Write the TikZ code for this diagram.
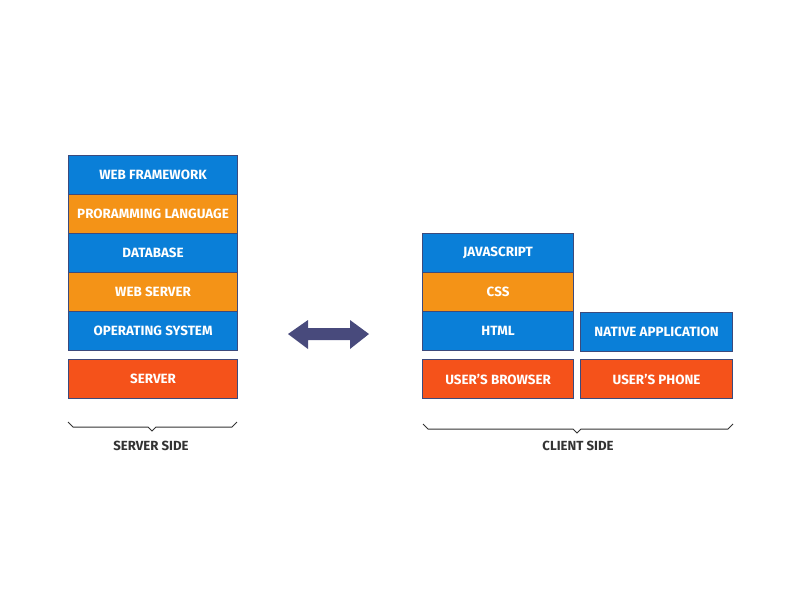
\documentclass[tikz,border=0pt]{standalone}
\usepackage{fontspec}
\setmainfont{Fira Sans}
\definecolor{cblue}{HTML}{0A7FD8}
\definecolor{corange}{HTML}{F49317}
\definecolor{cred}{HTML}{F5521A}
\definecolor{cedge}{HTML}{3C4A7C}
\definecolor{carrow}{HTML}{484A7C}
\definecolor{ctext}{HTML}{333333}
\tikzset{
  layer/.style={draw=cedge, line width=1.1pt, text=white, font=\bfseries\fontsize{13.4}{15}\selectfont, inner sep=0pt, anchor=north west},
  bluebox/.style={layer, fill=cblue},
  orangebox/.style={layer, fill=corange},
  redbox/.style={layer, fill=cred},
  sidelabel/.style={text=ctext, font=\bfseries\fontsize{13.2}{15}\selectfont},
  bracepath/.style={draw=ctext, line width=1pt, line join=miter}
}
\begin{document}
\begin{tikzpicture}[x=1pt,y=-1pt]
\useasboundingbox (0,0) rectangle (800,600);
% server side
\node[bluebox, minimum width=169pt, minimum height=39pt] (wf) at (68,155) {WEB FRAMEWORK};
\node[orangebox, minimum width=169pt, minimum height=39pt] (pl) at (68,194) {PRORAMMING LANGUAGE};
\node[bluebox, minimum width=169pt, minimum height=39pt] (db) at (68,233) {DATABASE};
\node[orangebox, minimum width=169pt, minimum height=39pt] (ws) at (68,272) {WEB SERVER};
\node[bluebox, minimum width=169pt, minimum height=39pt] (os) at (68,311) {OPERATING SYSTEM};
\node[redbox, minimum width=169pt, minimum height=39pt] (srv) at (68,359) {SERVER};
% client side
\node[bluebox, minimum width=151pt, minimum height=39pt] (js) at (422,233) {JAVASCRIPT};
\node[orangebox, minimum width=151pt, minimum height=39pt] (css) at (422,272) {CSS};
\node[bluebox, minimum width=151pt, minimum height=39pt] (html) at (422,311) {HTML};
\node[bluebox, minimum width=152pt, minimum height=39pt] (nat) at (580,312) {NATIVE APPLICATION};
\node[redbox, minimum width=151pt, minimum height=39pt] (brw) at (422,359) {USER'S BROWSER};
\node[redbox, minimum width=152pt, minimum height=39pt] (ph) at (580,359) {USER'S PHONE};
% braces
\draw[bracepath] (68,422) -- (73,427) -- (148,427) -- (152,431) -- (156,427) -- (232,427) -- (237,422);
\draw[bracepath] (423,424) -- (428,429) -- (573,429) -- (577,433) -- (581,429) -- (728,429) -- (733,424);
\node[sidelabel] (sside) at (151,446) {SERVER SIDE};
\node[sidelabel] (cside) at (578,446) {CLIENT SIDE};
% double arrow
\fill[carrow] (288,334) -- (308,320) -- (308,328) -- (350,328) -- (350,320) -- (369,334) -- (350,349) -- (350,340) -- (308,340) -- (308,349) -- cycle;
\end{tikzpicture}
\end{document}
